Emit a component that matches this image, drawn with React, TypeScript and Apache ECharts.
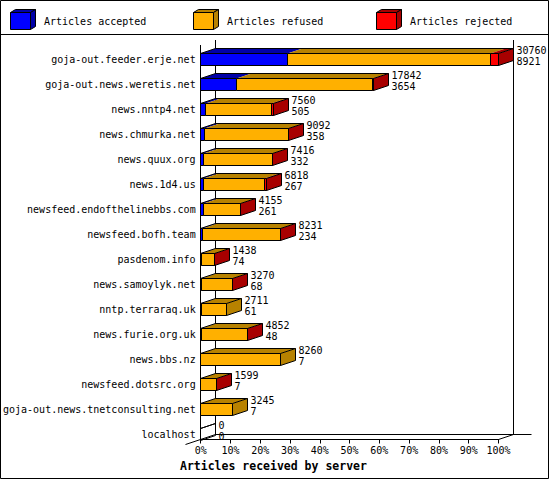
import { useEffect, useRef } from 'react';
import * as echarts from 'echarts';

const servers = [
  'goja-out.feeder.erje.net',
  'goja-out.news.weretis.net',
  'news.nntp4.net',
  'news.chmurka.net',
  'news.quux.org',
  'news.1d4.us',
  'newsfeed.endofthelinebbs.com',
  'newsfeed.bofh.team',
  'pasdenom.info',
  'news.samoylyk.net',
  'nntp.terraraq.uk',
  'news.furie.org.uk',
  'news.bbs.nz',
  'newsfeed.dotsrc.org',
  'goja-out.news.tnetconsulting.net',
  'localhost',
];
const totals = [30760, 17842, 7560, 9092, 7416, 6818, 4155, 8231, 1438, 3270, 2711, 4852, 8260, 1599, 3245, 0];
const accepted = [8921, 3654, 505, 358, 332, 267, 261, 234, 74, 68, 61, 48, 7, 7, 7, 0];
const refused = [21059, 14088, 6795, 8694, 7054, 6301, 3874, 7977, 1354, 3182, 2650, 4784, 8253, 1582, 3238, 0];
const rejected = [780, 100, 260, 40, 30, 250, 20, 20, 10, 20, 0, 20, 0, 10, 0, 0];

const seriesNames = ['Articles accepted', 'Articles refused', 'Articles rejected'];
const faceColors = ['#0000ff', '#ffb000', '#ff0000'];
const shadeColors = ['#0000a8', '#b88200', '#a80000'];

const scaleMax = 30760;
const tickStep = 3076;

const MONO = '"DejaVu Sans Mono", monospace';
const DX = 15;
const DY = -5;
const BAR_H = 12;

function renderBar(params: any, api: any) {
  const cat = api.value(0);
  const parts = [api.value(1), api.value(2), api.value(3)];
  const yc = api.coord([0, cat])[1];
  const px = (v: number) => Math.floor(api.coord([v, cat])[0]) + 0.5;
  const yt = Math.floor(yc - BAR_H / 2) + 0.5;
  const yb = yt + BAR_H;
  const children: any[] = [];
  let cum = 0;
  let last = -1;
  const x0 = px(0);
  let xs = x0;
  parts.forEach((v: number, i: number) => {
    if (v <= 0) return;
    const xe = px(cum + v);
    children.push({
      type: 'polygon',
      shape: { points: [[xs, yt + DY], [xs + DX, yt + DY], [xe + DX, yt + DY], [xe, yt]].map((p, k) => (k === 0 ? [xs, yt] : p)) },
      style: { fill: shadeColors[i], stroke: 'none' },
    });
    children.push({
      type: 'polygon',
      shape: { points: [[xs, yt], [xe, yt], [xe, yb], [xs, yb]] },
      style: { fill: faceColors[i], stroke: '#000', lineWidth: 1 },
    });
    cum += v;
    last = i;
    xs = xe;
  });
  // outline of the top face
  children.push({
    type: 'polyline',
    shape: { points: [[x0, yt], [x0 + DX, yt + DY], [xs + DX, yt + DY]] },
    style: { fill: 'none', stroke: '#000', lineWidth: 1 },
  });
  children.push({
    type: 'polygon',
    shape: { points: [[xs, yt], [xs + DX, yt + DY], [xs + DX, yb + DY], [xs, yb]] },
    style: { fill: last >= 0 ? shadeColors[last] : 'none', stroke: '#000', lineWidth: 1 },
  });
  children.push({
    type: 'text',
    x: xs + DX + 3,
    y: yc - 3,
    style: {
      text: `${api.value(4)}\n${api.value(1)}`,
      fill: '#000',
      font: `10px ${MONO}`,
      lineHeight: 11,
      verticalAlign: 'middle',
      align: 'left',
    },
  });
  return { type: 'group', children };
}

function line(x1: number, y1: number, x2: number, y2: number) {
  return {
    type: 'line',
    z: 0,
    shape: { x1, y1, x2, y2 },
    style: { stroke: '#000', lineWidth: 1 },
  };
}

function App() {
  const chartRef = useRef<HTMLDivElement>(null);

  useEffect(() => {
    const myChart = echarts.init(chartRef.current, null, { renderer: 'svg' });

    const legendItems = seriesNames.flatMap((name, i) => {
      const x = 10.5 + i * 183;
      const y = 12.5;
      return [
        {
          type: 'polygon',
          z: 1,
          shape: { points: [[x, y], [x + 5, y - 3], [x + 25, y - 3], [x + 20, y]] },
          style: { fill: shadeColors[i], stroke: '#000', lineWidth: 1 },
        },
        {
          type: 'polygon',
          z: 1,
          shape: { points: [[x + 20, y], [x + 25, y - 3], [x + 25, y + 14], [x + 20, y + 17]] },
          style: { fill: shadeColors[i], stroke: '#000', lineWidth: 1 },
        },
        {
          type: 'rect',
          z: 1,
          shape: { x, y, width: 20, height: 17 },
          style: { fill: faceColors[i], stroke: '#000', lineWidth: 1 },
        },
        {
          type: 'text',
          z: 1,
          x: x + 33.5,
          y: 21,
          style: { text: name, fill: '#000', font: `10px ${MONO}`, verticalAlign: 'middle' },
        },
      ];
    });

    const option = {
      animation: false,
      backgroundColor: '#fff',
      grid: { left: 200.5, width: 298, top: 46.5, height: 400 },
      xAxis: {
        type: 'value',
        min: 0,
        max: scaleMax,
        interval: tickStep,
        offset: -7,
        splitLine: { show: false },
        axisLine: { show: true, lineStyle: { color: '#000', width: 1 } },
        axisTick: { show: true, length: 4, lineStyle: { color: '#000', width: 1 } },
        axisLabel: {
          margin: 6,
          color: '#000',
          fontFamily: MONO,
          fontSize: 10,
          formatter: (v: number) => `${Math.round((v / scaleMax) * 100)}%`,
        },
      },
      yAxis: {
        type: 'category',
        inverse: true,
        data: servers,
        axisLine: { show: false },
        axisTick: { show: false },
        axisLabel: { margin: 5, color: '#000', fontFamily: MONO, fontSize: 10 },
      },
      graphic: [
        {
          type: 'rect',
          z: 0,
          shape: { x: 0.5, y: 0.5, width: 548, height: 478 },
          style: { fill: 'none', stroke: '#000', lineWidth: 1 },
        },
        line(0.5, 34.5, 548.5, 34.5),
        line(200.5, 45, 200.5, 439.5),
        line(215.5, 40, 215.5, 434.5),
        line(513.5, 40, 513.5, 434.5),
        line(215.5, 434.5, 531.5, 434.5),
        line(185.5, 444.5, 215.5, 434.5),
        line(498.5, 439.5, 513.5, 434.5),
        ...legendItems,
        {
          type: 'text',
          z: 1,
          x: 180,
          y: 466,
          style: {
            text: 'Articles received by server',
            fill: '#000',
            font: `bold 11.5px ${MONO}`,
            verticalAlign: 'middle',
          },
        },
      ],
      series: [
        {
          type: 'custom',
          name: 'servers',
          renderItem: renderBar,
          encode: { x: 4, y: 0 },
          data: servers.map((_, i) => [i, accepted[i], refused[i], rejected[i], totals[i]]),
        },
      ],
    };

    myChart.setOption(option);

    return () => {
      myChart.dispose();
    };
  }, []);

  return (
    <div
      ref={chartRef}
      style={{ position: 'fixed', left: 0, top: 0, width: '550px', height: '480px', background: '#fff' }}
    ></div>
  );
}

export default App;
